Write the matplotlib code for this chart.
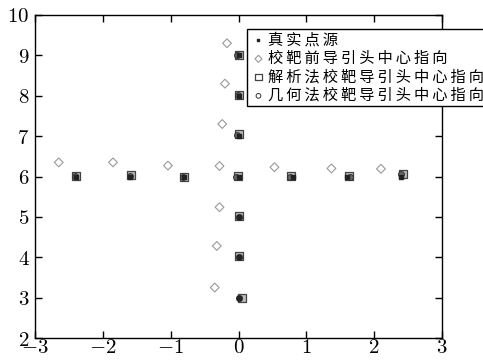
import matplotlib
matplotlib.use("Agg")
import matplotlib.pyplot as plt

plt.rcParams['font.family'] = ['DejaVu Serif']
plt.rcParams['mathtext.fontset'] = 'cm'

# true point sources
true_x = [-2.4, -1.6, -0.8, 0.0, 0.8, 1.6, 2.4, 0.0, 0.0, 0.0, 0.0, 0.0, 0.0]
true_y = [6.0, 6.0, 6.0, 6.0, 6.0, 6.0, 6.0, 9.0, 8.0, 7.0, 5.0, 4.0, 3.0]

# seeker pointing before calibration
pre_x = [-2.65, -1.85, -1.04, -0.28, 0.53, 1.37, 2.1, -0.17, -0.2, -0.24, -0.28, -0.32, -0.35]
pre_y = [6.35, 6.35, 6.27, 6.26, 6.23, 6.2, 6.19, 9.3, 8.3, 7.3, 5.24, 4.28, 3.25]

# analytic calibration
ana_x = [-2.39, -1.59, -0.8, -0.01, 0.78, 1.63, 2.42, 0.0, 0.0, 0.0, 0.01, 0.01, 0.05]
ana_y = [6.02, 6.03, 5.99, 6.01, 6.01, 6.01, 6.05, 9.0, 8.02, 7.05, 5.01, 4.03, 2.98]

# geometric calibration
geo_x = [-2.41, -1.6, -0.82, -0.03, 0.76, 1.64, 2.39, -0.02, -0.01, -0.02, 0.0, 0.0, 0.0]
geo_y = [6.01, 6.02, 5.98, 6.0, 6.0, 6.0, 6.06, 9.01, 8.02, 7.04, 5.0, 4.0, 2.98]

legend_labels = ['真实点源', '校靶前导引头中心指向', '解析法校靶导引头中心指向', '几何法校靶导引头中心指向']
x_ticks = [-3, -2, -1, 0, 1, 2, 3]
y_ticks = [2, 3, 4, 5, 6, 7, 8, 9, 10]

fig = plt.figure(figsize=(4.83, 3.6), dpi=100)
ax = fig.add_axes([35 / 483, 1 - 338 / 360, 407 / 483, 323 / 360])

# letter-spaced labels (thin space falls back to DejaVu Sans)
spaced = ['\u2009'.join(lab) for lab in legend_labels]

ax.scatter(true_x, true_y, marker='s', s=6, color='#222222', zorder=4, label=spaced[0])
ax.scatter(pre_x, pre_y, marker='D', s=20, facecolor='none', edgecolor='#999999', linewidth=0.8, zorder=2, label=spaced[1])
ax.scatter(ana_x, ana_y, marker='s', s=30, facecolor='#bbbbbb', edgecolor='#444444', linewidth=0.9, zorder=3, label=spaced[2])
ax.scatter(geo_x, geo_y, marker='o', s=18, facecolor='#666666', edgecolor='#333333', linewidth=0.7, zorder=3, label=spaced[3])

ax.set_xlim(-3, 3)
ax.set_ylim(2, 10)
ax.set_xticks(x_ticks)
ax.set_yticks(y_ticks)
ax.set_xticklabels([('$%d$' % v) for v in x_ticks])
ax.set_yticklabels([('$%d$' % v) for v in y_ticks])
ax.tick_params(direction='in', top=True, right=True, labelsize=15, length=5, width=1)
ax.tick_params(axis='x', pad=0)
ax.tick_params(axis='y', pad=4)
for sp in ax.spines.values():
    sp.set_linewidth(1.0)

leg = ax.legend(loc='upper left', bbox_to_anchor=(247 / 483, 1 - 29 / 360), bbox_transform=fig.transFigure,
                frameon=True, fancybox=False, edgecolor='black', framealpha=1,
                prop={'family': ['Noto Sans CJK SC', 'DejaVu Sans'], 'size': 11},
                handletextpad=0.0, handlelength=1.2, borderpad=0.15, labelspacing=0.1, borderaxespad=0,
                markerscale=0.8)
leg.get_frame().set_linewidth(1.0)
for h in leg.legend_handles[1:]:
    h.set_facecolor('none')

fig.savefig('out.png', dpi=100)
